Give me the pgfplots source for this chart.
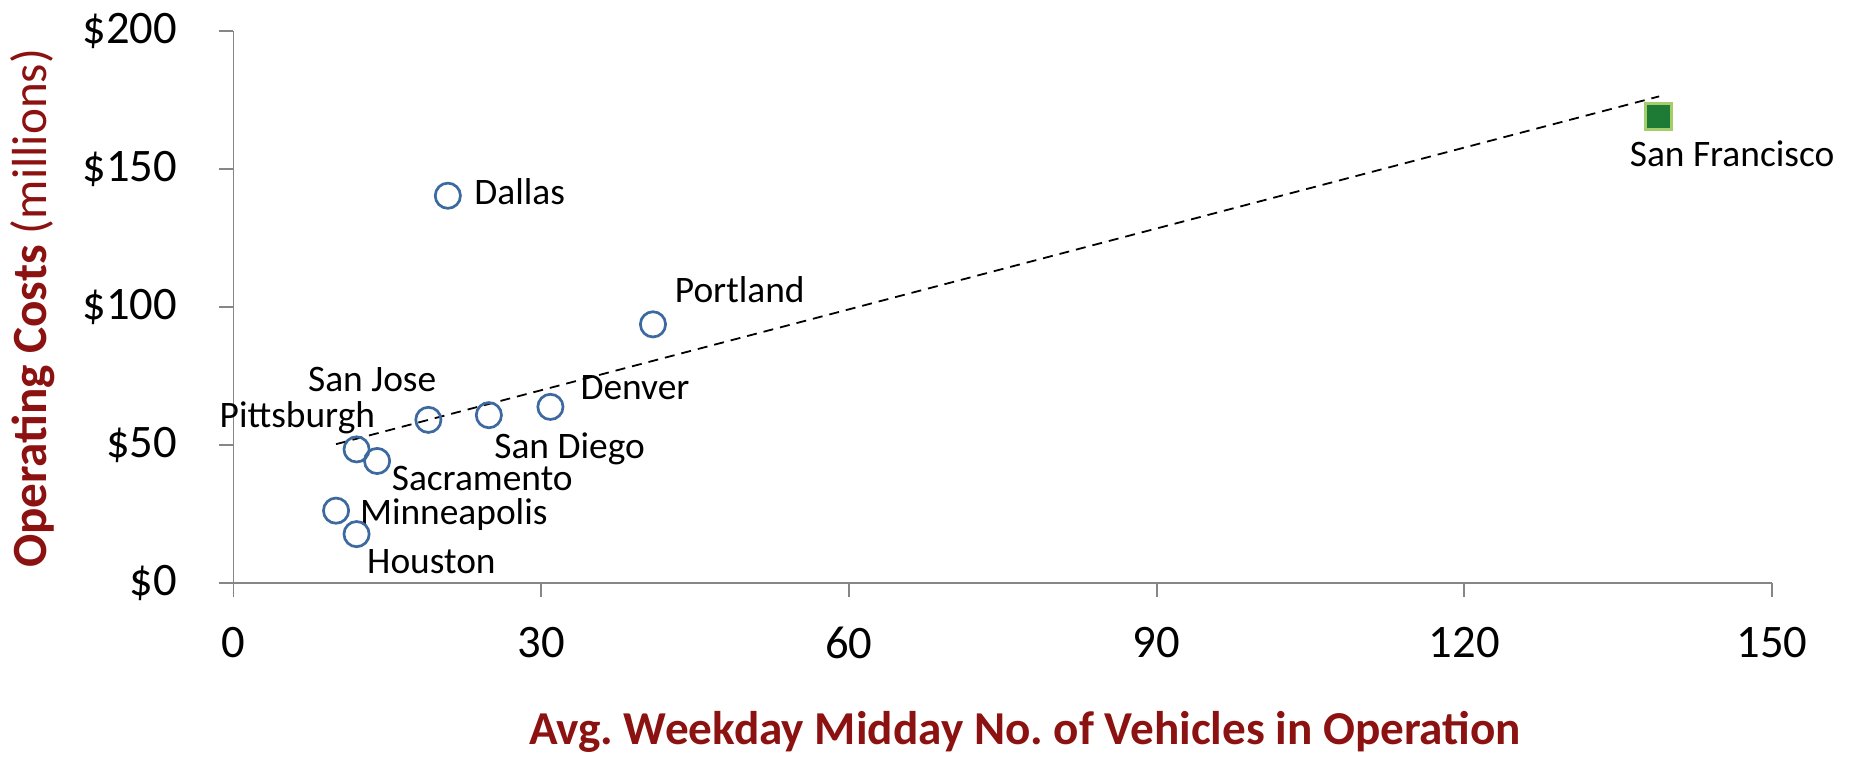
\documentclass[border=0pt]{standalone}
\usepackage{fontspec}
\setmainfont{Carlito}
\usepackage{pgfplots}
\pgfplotsset{compat=1.18}
\definecolor{ttl}{RGB}{140,18,18}
\definecolor{mk}{RGB}{60,105,160}
\definecolor{sfg}{RGB}{30,123,53}
\definecolor{sfb}{RGB}{165,205,105}
\definecolor{axg}{RGB}{134,134,134}
\begin{document}
\frenchspacing
\begin{tikzpicture}[lbl/.style={anchor=west, inner sep=0pt, font=\fontsize{18.7}{22}\selectfont, text height=12pt, text depth=0pt}]
\path[use as bounding box] (-116.75pt,-87.65pt) rectangle (807.75pt,291.35pt);
\begin{axis}[
  at={(0,0)}, anchor=south west,
  scale only axis, width=769.25pt, height=276pt,
  xmin=0, xmax=150, ymin=0, ymax=200,
  clip=false,
  axis lines=left,
  axis line style={axg, line width=0.9pt, -},
  xtick={0,30,60,90,120,150},
  ytick={0,50,100,150,200},
  xticklabels={0,30,60,90,120,150},
  yticklabels={\$0,\$50,\$100,\$150,\$200},
  tick align=outside,
  major tick length=7pt,
  tick style={axg, line width=0.9pt},
  tick label style={font=\fontsize{23.3}{27}\selectfont, inner sep=0pt},
  yticklabel style={anchor=east, xshift=-21pt},
  xticklabel style={anchor=north, yshift=-15pt},
  xlabel={\textbf{Avg. Weekday Midday No. of Vehicles in Operation}},
  ylabel={\textbf{Operating Costs} (millions)},
  label style={text=ttl, inner sep=0pt, text height=15pt, text depth=0pt},
  xlabel style={font=\fontsize{23.6}{28}\selectfont, at={(axis description cs:0.5145,-0.2668)}, anchor=center},
  ylabel style={font=\fontsize{24.6}{29}\selectfont, at={(axis description cs:-0.1316,0.497)}, anchor=center},
]
\addplot[black, line width=0.9pt, dash pattern=on 5pt off 3.5pt] coordinates {(10,50.2) (139,176.2)};
\addplot[only marks, mark=o, mark size=6.3pt, mark options={draw=mk, line width=1.35pt}] coordinates {
  (20.9,140.2) (40.9,93.6) (30.9,63.7) (24.9,60.7) (19.0,59.0)
  (12.0,48.3) (14.0,44.1) (10.0,26.1) (12.0,17.6)};
\addplot[only marks, mark=square*, mark size=6.5pt, mark options={fill=sfg, draw=sfb, line width=1.5pt}] coordinates {(138.9,169.0)};
\node[lbl] at (axis cs:23.45,141.5) {Dallas};
\node[lbl] at (axis cs:43.0,106.0) {Portland};
\node[lbl] at (axis cs:33.8,70.6) {Denver};
\node[lbl] at (axis cs:7.24,73.6) {San Jose};
\node[lbl] at (axis cs:-1.38,60.7) {Pittsburgh};
\node[lbl] at (axis cs:25.4,49.2) {San Diego};
\node[lbl] at (axis cs:15.4,37.7) {Sacramento};
\node[lbl] at (axis cs:12.3,25.3) {Minneapolis};
\node[lbl] at (axis cs:13.0,7.75) {Houston};
\node[lbl] at (axis cs:136.1,155.1) {San Francisco};
\end{axis}
\end{tikzpicture}
\end{document}
